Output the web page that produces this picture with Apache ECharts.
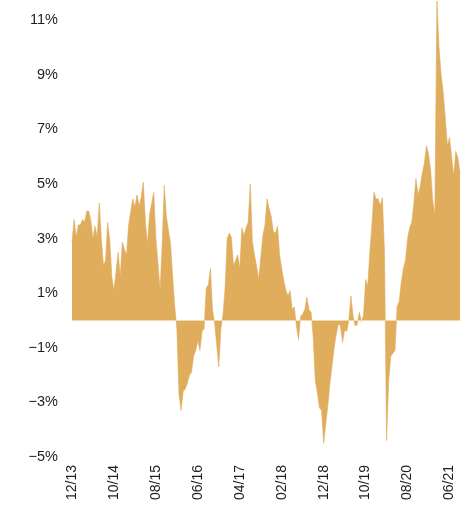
<!DOCTYPE html>
<html>
<head>
<meta charset="utf-8">
<script src="https://cdn.jsdelivr.net/npm/echarts@6/dist/echarts.min.js"></script>
<style>
html,body{margin:0;padding:0;background:#fff;}
#chart{width:472px;height:510px;}
</style>
</head>
<body>
<div id="chart"></div>
<script>
// Semi-monthly observations, Dec 2013 .. Aug 2021 (two per month)
const values = [
  2.87, 3.7, 3.05, 3.5, 3.5, 3.7, 3.6, 4.0, 4.0, 3.65,
  3.0, 3.45, 3.05, 4.3, 3.0, 2.0, 2.2, 3.6, 2.95, 1.6,
  1.1, 1.8, 2.5, 1.6, 2.87, 2.6, 2.4, 3.5, 4.0, 4.45,
  4.15, 4.6, 4.2, 4.5, 5.07, 3.6, 2.8, 3.9, 4.3, 4.7,
  3.0, 2.1, 1.1, 2.8, 4.95, 3.8, 3.3, 2.8, 1.6, 0.5,
  -0.3, -2.7, -3.3, -2.6, -2.5, -2.3, -2.0, -1.9, -1.3, -1.1,
  -0.73, -1.1, -0.4, -0.3, 1.2, 1.3, 1.9, 0.4, -0.1, -0.9,
  -1.7, -0.3, 0.2, 1.2, 3.0, 3.2, 3.05, 2.0, 2.2, 2.4,
  1.9, 3.4, 3.1, 3.4, 3.6, 5.0, 2.9, 2.4, 2.0, 1.5,
  2.3, 3.1, 3.5, 4.45, 4.1, 3.8, 3.25, 3.2, 3.45, 2.4,
  1.9, 1.45, 1.1, 0.9, 1.1, 0.4, 0.5, -0.2, -0.7, 0.15,
  0.24, 0.4, 0.85, 0.4, 0.3, -0.6, -2.2, -2.65, -3.2, -3.3,
  -4.5, -3.8, -3.1, -2.3, -1.65, -1.0, -0.5, -0.12, -0.2, -0.8,
  -0.35, -0.4, 0, 0.9, 0.18, -0.2, -0.15, 0.3, -0.05, 0.2,
  1.5, 1.25, 2.5, 3.5, 4.7, 4.45, 4.45, 4.2, 4.5, 2.5,
  -4.4, -2.2, -1.3, -1.2, -1.1, 0.5, 0.7, 1.4, 1.9, 2.2,
  3.0, 3.4, 3.6, 4.3, 5.2, 4.6, 4.9, 5.4, 5.75, 6.4,
  6.1, 5.5, 4.4, 3.85, 11.7, 10.0, 9.0, 8.35, 7.4, 6.4,
  6.7, 6.0, 5.3, 6.2, 5.95, 5.4
];

// Category labels: first and second half of each month, starting Dec 2013
const startYear = 2013, startMonth = 12;
const categories = values.map((_, i) => {
  const m = Math.floor(i / 2);
  const mon = (startMonth - 1 + m) % 12 + 1;
  const yr = startYear + Math.floor((startMonth - 1 + m) / 12);
  return (mon < 10 ? '0' : '') + mon + '/' + String(yr).slice(2) + (i % 2 ? 'b' : 'a');
});

const tickLabels = ['12/13', '10/14', '08/15', '06/16', '04/17', '02/18', '12/18', '10/19', '08/20', '06/21'];
const tickEvery = 20;

const yTicks = [-5, -3, -1, 1, 3, 5, 7, 9, 11];

const chart = echarts.init(document.getElementById('chart'), null, {renderer: 'canvas'});
chart.setOption({
  animation: false,
  grid: {left: 72, right: 12, top: 1, bottom: 53, containLabel: false},
  xAxis: {
    type: 'category',
    data: categories,
    boundaryGap: false,
    axisLine: {show: false},
    axisTick: {show: false},
    splitLine: {show: false},
    axisLabel: {
      rotate: 90,
      margin: 8,
      interval: (idx) => idx % tickEvery === 0,
      formatter: (v, idx) => tickLabels[idx / tickEvery] || '',
      color: '#1e1e1e',
      fontSize: 14,
      fontFamily: '"Liberation Sans Narrow", "Arial Narrow", "Liberation Sans", Arial, sans-serif'
    }
  },
  yAxis: {
    type: 'value',
    min: yTicks[0],
    max: 11.7,
    interval: 2,
    axisLine: {show: false},
    axisTick: {show: false},
    splitLine: {show: false},
    axisLabel: {
      showMaxLabel: false,
      margin: 14,
      color: '#1e1e1e',
      fontSize: 14.5,
      fontFamily: '"Liberation Sans", Arial, sans-serif',
      formatter: (v) => yTicks.indexOf(v) < 0 ? '' : (v < 0 ? '\u2212' : '') + Math.abs(v) + '%'
    }
  },
  series: [{
    type: 'line',
    data: values,
    showSymbol: false,
    sampling: null,
    lineStyle: {width: 0.6, color: '#E0AD5C'},
    areaStyle: {color: '#E0AD5C', opacity: 1},
    markLine: {
      silent: true,
      symbol: 'none',
      label: {show: false},
      lineStyle: {color: '#F0D8B0', width: 1, type: 'solid'},
      data: [{yAxis: 0}]
    }
  }]
});
</script>
</body>
</html>
